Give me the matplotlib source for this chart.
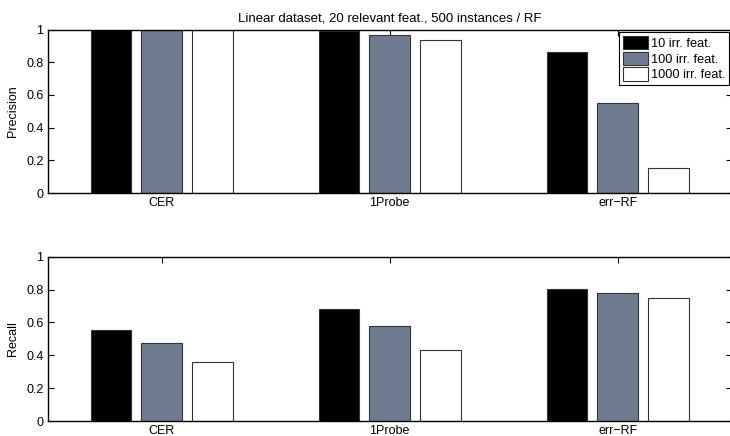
import matplotlib
matplotlib.use("Agg")
import matplotlib.pyplot as plt
import numpy as np

plt.rcParams['font.family'] = ['Liberation Sans', 'DejaVu Sans']

methods = ["CER", "1Probe", "err\u2212RF"]
series_labels = ["10 irr. feat.", "100 irr. feat.", "1000 irr. feat."]
precision = [
    [1.00, 0.992, 0.861],   # 10 irr. feat.
    [0.998, 0.965, 0.548],  # 100 irr. feat.
    [0.994, 0.934, 0.151],  # 1000 irr. feat.
]
recall = [
    [0.555, 0.683, 0.805],
    [0.474, 0.579, 0.777],
    [0.362, 0.435, 0.746],
]
yticks = [0, 0.2, 0.4, 0.6, 0.8, 1]
ytick_labels = ["0", "0.2", "0.4", "0.6", "0.8", "1"]
title = "Linear dataset, 20 relevant feat., 500 instances / RF"

colors = ["#000000", "#6f7b8e", "#ffffff"]

fig = plt.figure(figsize=(7.30, 4.36), dpi=100)
ax1 = fig.add_axes([0.0653, 0.5573, 0.937, 0.375])
ax2 = fig.add_axes([0.0653, 0.0344, 0.937, 0.3768])

x = np.arange(1, len(methods) + 1)
offset = 0.2222
width = 0.178

def draw(ax, data, ylabel):
    handles = []
    for i, vals in enumerate(data):
        h = ax.bar(x + (i - 1) * offset, vals, width, color=colors[i],
                   edgecolor="#333333", linewidth=0.8, zorder=2)
        handles.append(h)
    ax.set_xlim(0.5, 3.5)
    ax.set_ylim(0, 1)
    ax.set_xticks(x)
    ax.set_xticklabels(methods, fontsize=9)
    ax.set_yticks(yticks)
    ax.set_yticklabels(ytick_labels, fontsize=9)
    ax.tick_params(direction="in", top=True, right=True, length=4,
                   width=0.8, pad=3)
    ax.set_ylabel(ylabel, fontsize=9, labelpad=5)
    for s in ax.spines.values():
        s.set_linewidth(1.0)
        s.set_zorder(3)
    return handles

h = draw(ax1, precision, "Precision")
draw(ax2, recall, "Recall")
ax1.set_title(title, fontsize=9.5, pad=6)

leg = ax1.legend(h, series_labels, loc="upper right", fontsize=9.2,
                 frameon=True, fancybox=False, framealpha=1,
                 edgecolor="black", borderaxespad=0.2,
                 handlelength=2.0, handleheight=1.2, handletextpad=0.2,
                 labelspacing=0.15, borderpad=0.3)
leg.get_frame().set_linewidth(0.8)

fig.savefig("out.png", dpi=100)
